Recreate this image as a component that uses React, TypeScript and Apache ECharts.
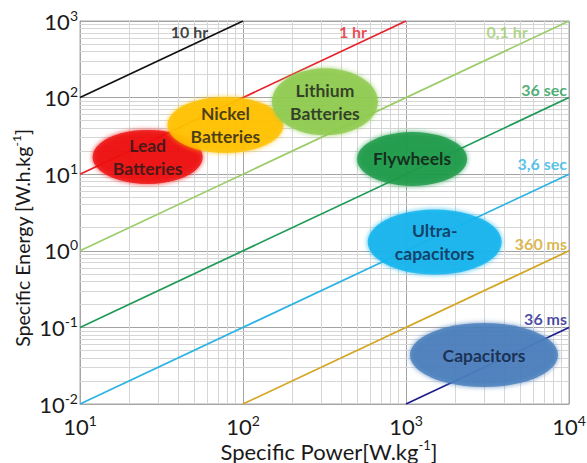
import React, { useEffect, useRef } from "react";
import * as echarts from "echarts";

// ---- Data ----
const xMin = 10;
const xMax = 10000;
const yMin = 0.01;
const yMax = 1000;

const xTitle = "{b|Specific Power[W.kg}{s|-1}{b|]}";
const yTitle = "{b|Specific Energy [W.h.kg}{s|-1}{b|]}";

const timeLabels = ["10 hr", "1 hr", "0,1 hr", "36 sec", "3,6 sec", "360 ms", "36 ms"];
const lineStarts = [
  [10, 100],
  [10, 10],
  [10, 1],
  [10, 0.1],
  [10, 0.01],
  [100, 0.01],
  [1000, 0.01],
];
const lineEnds = [
  [100, 1000],
  [1000, 1000],
  [10000, 1000],
  [10000, 100],
  [10000, 10],
  [10000, 1],
  [10000, 0.1],
];
// where each time-constant label sits (data coordinates)
const timeLabelPos = [
  [47, 720],
  [473, 720],
  [4170, 720],
  [10000, 129],
  [10000, 13.6],
  [10000, 1.26],
  [10000, 0.129],
];

const techNames = [
  "Lead\nBatteries",
  "Nickel\nBatteries",
  "Lithium\nBatteries",
  "Flywheels",
  "Ultra-\ncapacitors",
  "Capacitors",
];
const techPower = [26, 78, 318, 1090, 1500, 3010];
const techEnergy = [16.8, 44, 88, 15.8, 1.3, 0.0436];

const decades = [10, 100, 1000];
const yDecades = [0.01, 0.1, 1, 10, 100];
const minorSteps = [2, 3, 4, 5, 6, 7, 8, 9];

// ---- Styles ----
const FONT = "Lato, 'Open Sans', sans-serif";
const lineColors = ["#111111", "#e8202a", "#9ccc6a", "#1e9a55", "#2cb3e3", "#d4a520", "#1c1c8c"];
const labelAlign = ["center", "center", "center", "right", "right", "right", "right"];
const techColors = ["#ee0a0a", "#ffc000", "#8fca4f", "#1a9a48", "#12b3ee", "#4a7ebb"];
const techText = ["#1a1a1a", "#1a1a1a", "#1a1a1a", "#111111", "#0f2345", "#0c1c3a"];
const techSizes = [
  [110, 54],
  [116, 56],
  [106, 67],
  [110, 54],
  [134, 65],
  [148, 64],
];

function supRich(baseSize: number, supSize: number, lh: number) {
  return {
    b: { fontSize: baseSize, lineHeight: lh, fontFamily: FONT, fill: "#1a1a1a", color: "#1a1a1a" },
    s: {
      fontSize: supSize,
      lineHeight: supSize,
      verticalAlign: "top",
      fontFamily: FONT,
      fill: "#1a1a1a",
      color: "#1a1a1a",
    },
  };
}

export default function App() {
  const ref = useRef<HTMLDivElement>(null);
  useEffect(() => {
    document.body.style.margin = "0";
    if (!ref.current) return;
    const chart = echarts.init(ref.current, null, { renderer: "svg" });

    const minorX: any[] = [];
    decades.forEach((d) => minorSteps.forEach((m) => minorX.push({ xAxis: d * m })));
    const minorY: any[] = [];
    yDecades.forEach((d) => minorSteps.forEach((m) => minorY.push({ yAxis: d * m })));

    const series: any[] = [];
    series.push({
      type: "line",
      data: [[xMin, yMin]],
      symbol: "none",
      lineStyle: { opacity: 0 },
      silent: true,
      z: 1,
      markLine: {
        silent: true,
        z: 1,
        symbol: "none",
        animation: false,
        label: { show: false },
        lineStyle: { color: "#d6d6d6", width: 1, type: "solid" },
        data: [...minorX, ...minorY],
      },
    });

    timeLabels.forEach((name, i) => {
      series.push({
        type: "line",
        name,
        data: [lineStarts[i], lineEnds[i]],
        symbol: "none",
        lineStyle: { color: lineColors[i], width: 1.7 },
        z: 3,
      });
    });

    series.push({
      type: "scatter",
      symbolSize: 0,
      z: 6,
      data: timeLabels.map((name, i) => ({
        name,
        value: timeLabelPos[i],
        label: {
          show: true,
          formatter: name,
          position: labelAlign[i] === "right" ? "left" : "inside",
          distance: 2,
          color: lineColors[i],
          fontFamily: FONT,
          fontWeight: "bold",
          fontSize: 16,
        },
      })),
    });

    series.push({
      type: "scatter",
      z: 5,
      data: techNames.map((name, i) => ({
        name,
        value: [techPower[i], techEnergy[i]],
        symbol: "circle",
        symbolSize: techSizes[i],
        itemStyle: { color: techColors[i], shadowBlur: 5, shadowColor: techColors[i] },
        label: {
          show: true,
          position: "inside",
          formatter: name,
          color: techText[i],
          fontFamily: FONT,
          fontWeight: "bold",
          fontSize: 17.5,
          lineHeight: 23,
        },
      })),
    });

    const axisCommon = {
      type: "log",
      logBase: 10,
      interval: 1,
      axisLine: { show: true, lineStyle: { color: "#a6a6a6", width: 1 } },
      axisTick: { show: false },
      splitLine: { show: true, lineStyle: { color: "#a3a3a3", width: 1 } },
      axisLabel: {
        formatter: (v: number) => `{b|10}{s|${Math.round(Math.log10(v))}}`,
        rich: supRich(22, 14, 26),
      },
    };

    chart.setOption({
      animation: false,
      backgroundColor: "#ffffff",
      grid: {
        left: 80,
        right: 18,
        top: 21,
        bottom: 59,
        outerBoundsMode: "none",
        containLabel: false,
        show: true,
        borderColor: "#a6a6a6",
        borderWidth: 1,
      },
      xAxis: {
        ...axisCommon,
        min: xMin,
        max: xMax,
        axisLabel: { ...axisCommon.axisLabel, margin: 9 },
      },
      yAxis: {
        ...axisCommon,
        min: yMin,
        max: yMax,
        axisLabel: { ...axisCommon.axisLabel, margin: 2 },
      },
      graphic: [
        {
          type: "text",
          x: 329,
          y: 451,
          style: {
            text: xTitle,
            rich: supRich(22, 13, 26),
            align: "center",
            verticalAlign: "middle",
          },
        },
        {
          type: "text",
          x: 22,
          y: 238,
          rotation: Math.PI / 2,
          style: {
            text: yTitle,
            rich: supRich(19.5, 12, 24),
            align: "center",
            verticalAlign: "middle",
          },
        },
      ],
      series,
    });
    return () => chart.dispose();
  }, []);
  return <div ref={ref} style={{ width: 587, height: 463 }} />;
}
